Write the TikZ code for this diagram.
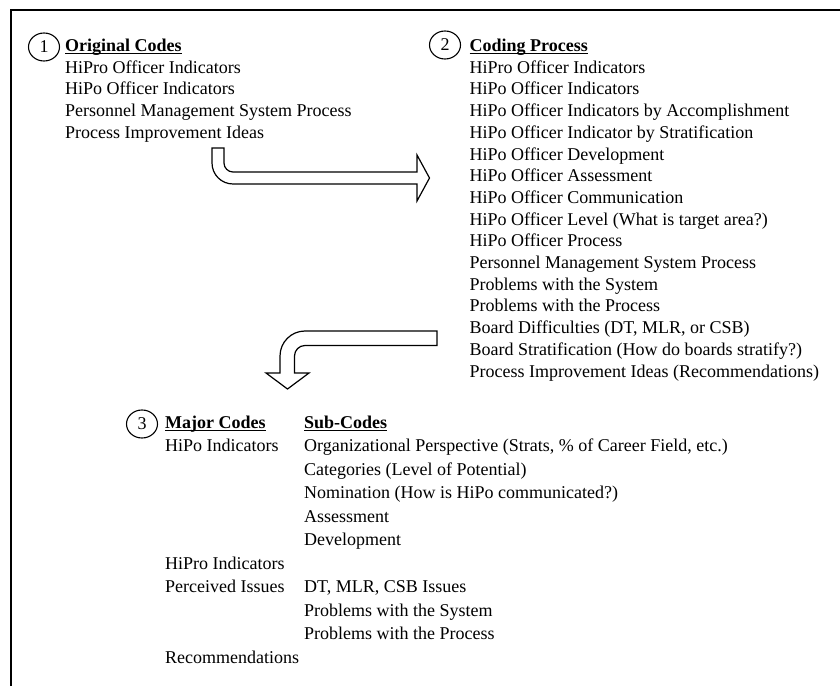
\documentclass[tikz,border=0pt]{standalone}
\usepackage{fontspec}
\setmainfont{Liberation Serif}
\usetikzlibrary{shapes.geometric}
\begin{document}
\begin{tikzpicture}[x=1pt,y=1pt,
  txt/.style={anchor=base west,inner sep=0pt,font=\fontsize{18}{21.7}\selectfont},
  hdr/.style={txt,font=\fontsize{18}{21.7}\selectfont\bfseries},
  uline/.style={line width=1.1pt},
  numcirc/.style={draw,ellipse,line width=1.1pt,minimum width=31pt,minimum height=28pt,inner sep=0pt,font=\fontsize{18}{21.7}\selectfont},
  bentarrow/.style={draw,line width=1.2pt,fill=white,line join=miter},
  frame/.style={line width=1.8pt}]
\useasboundingbox (0,0) rectangle (840,686);
% frame
\coordinate (fb) at (11,0);
\coordinate (fc) at (11,676);
\coordinate (fr) at (840,676);
\draw[frame] (fb) -- (fc) -- (fr);

% section 1
\node[numcirc] (c1) at (44,639) {1};
\node[hdr] (h1) at (65,634.5) {Original Codes};
\foreach \t [count=\i from 0] in {{HiPro Officer Indicators},{HiPo Officer Indicators},{Personnel Management System Process},{Process Improvement Ideas}}
  \node[txt] (s1l\i) at (65,{612.7-21.7*\i}) {\t};

% section 2
\node[numcirc] (c2) at (445,641) {2};
\node[hdr] (h2) at (469.5,634.5) {Coding Process};
\foreach \t [count=\i from 0] in {{HiPro Officer Indicators},{HiPo Officer Indicators},{HiPo Officer Indicators by Accomplishment},{HiPo Officer Indicator by Stratification},{HiPo Officer Development},{HiPo Officer Assessment},{HiPo Officer Communication},{HiPo Officer Level (What is target area?)},{HiPo Officer Process},{Personnel Management System Process},{Problems with the System},{Problems with the Process},{Board Difficulties (DT, MLR, or CSB)},{Board Stratification (How do boards stratify?)},{Process Improvement Ideas (Recommendations)}}
  \node[txt] (s2l\i) at (469.5,{612.7-21.7*\i}) {\t};

% section 3
\node[numcirc] (c3) at (142,262) {3};
\node[hdr] (h3a) at (165,257.7) {Major Codes};
\node[hdr] (h3b) at (304,257.7) {Sub-Codes};
\node[txt] (m0) at (165,234.3) {HiPo Indicators};
\node[txt] (m5) at (165,{234.3-23.5*5}) {HiPro Indicators};
\node[txt] (m6) at (165,{234.3-23.5*6}) {Perceived Issues};
\node[txt] (m9) at (165,{234.3-23.5*9}) {Recommendations};
\foreach \t/\k in {{Organizational Perspective (Strats, \% of Career Field, etc.)}/0,{Categories (Level of Potential)}/1,{Nomination (How is HiPo communicated?)}/2,{Assessment}/3,{Development}/4,{DT, MLR, CSB Issues}/6,{Problems with the System}/7,{Problems with the Process}/8}
  \node[txt] (sub\k) at (304,{234.3-23.5*\k}) {\t};

% underlines of the headers
\foreach \h in {h1,h2,h3a,h3b}
  \draw[uline] ([yshift=-2.3pt]\h.base west) -- ([yshift=-2.3pt]\h.base east);

% arrow 1 (down then right)
\draw[bentarrow] (212,538) -- (224,538) -- (224,523) arc[start angle=180,end angle=270,radius=9pt]
  -- (417,514) -- (417,531) -- (429.5,508) -- (417,485) -- (417,502) -- (233,502)
  arc[start angle=270,end angle=180,radius=21pt] -- cycle;

% arrow 2 (left then down)
\draw[bentarrow] (437,355) -- (305,355) arc[start angle=90,end angle=180,radius=25pt]
  -- (280,313) -- (266,313) -- (287.5,297) -- (309,313) -- (294.5,313) -- (294.5,330)
  arc[start angle=180,end angle=90,radius=10.5pt] -- (437,340.5) -- cycle;
\end{tikzpicture}
\end{document}
